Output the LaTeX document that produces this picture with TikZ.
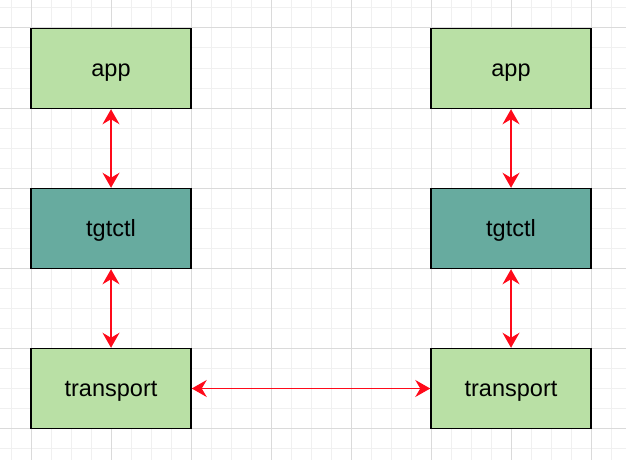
\documentclass[tikz,border=0pt]{standalone}
\usepackage{fontspec}
\setmainfont{Liberation Sans}
\usetikzlibrary{arrows.meta}
\definecolor{lightgreen}{HTML}{B9E0A5}
\definecolor{teal2}{HTML}{67AB9F}
\definecolor{minorgrid}{HTML}{F0F0F0}
\definecolor{majorgrid}{HTML}{DADADA}
\definecolor{arrowred}{HTML}{FF0A1A}
\tikzset{
  box/.style={draw=black, line width=1.5pt, minimum width=160pt, minimum height=80pt, inner sep=0pt, text height=22pt, text depth=5.8pt, font=\fontsize{23.5}{28}\selectfont},
  greenbox/.style={box, fill=lightgreen},
  tealbox/.style={box, fill=teal2},
  link/.style={draw=arrowred, line width=1.4pt, {Stealth[length=15pt,width=17pt,inset=5pt]}-{Stealth[length=15pt,width=17pt,inset=5pt]}}
}
\begin{document}
\begin{tikzpicture}[x=1pt,y=-1pt]
\useasboundingbox (0,0) rectangle (626,460);
\fill[white] (0,0) rectangle (626,460);
\foreach \x in {11,31,...,626} \draw[minorgrid, line width=1pt] (\x,0) -- (\x,460);
\foreach \y in {8,28,...,460} \draw[minorgrid, line width=1pt] (0,\y) -- (626,\y);
\foreach \x in {31,111,...,626} \draw[majorgrid, line width=1pt] (\x,0) -- (\x,460);
\foreach \y in {28,108,...,460} \draw[majorgrid, line width=1pt] (0,\y) -- (626,\y);
\node[greenbox] (app1) at (111,68.5) {app};
\node[tealbox] (tgt1) at (111,228.5) {tgtctl};
\node[greenbox] (tr1) at (111,388.5) {transport};
\node[greenbox] (app2) at (511,68.5) {app};
\node[tealbox] (tgt2) at (511,228.5) {tgtctl};
\node[greenbox] (tr2) at (511,388.5) {transport};
\draw[link] (app1) -- (tgt1);
\draw[link] (tgt1) -- (tr1);
\draw[link] (app2) -- (tgt2);
\draw[link] (tgt2) -- (tr2);
\draw[link] (tr1) -- (tr2);
\end{tikzpicture}
\end{document}
